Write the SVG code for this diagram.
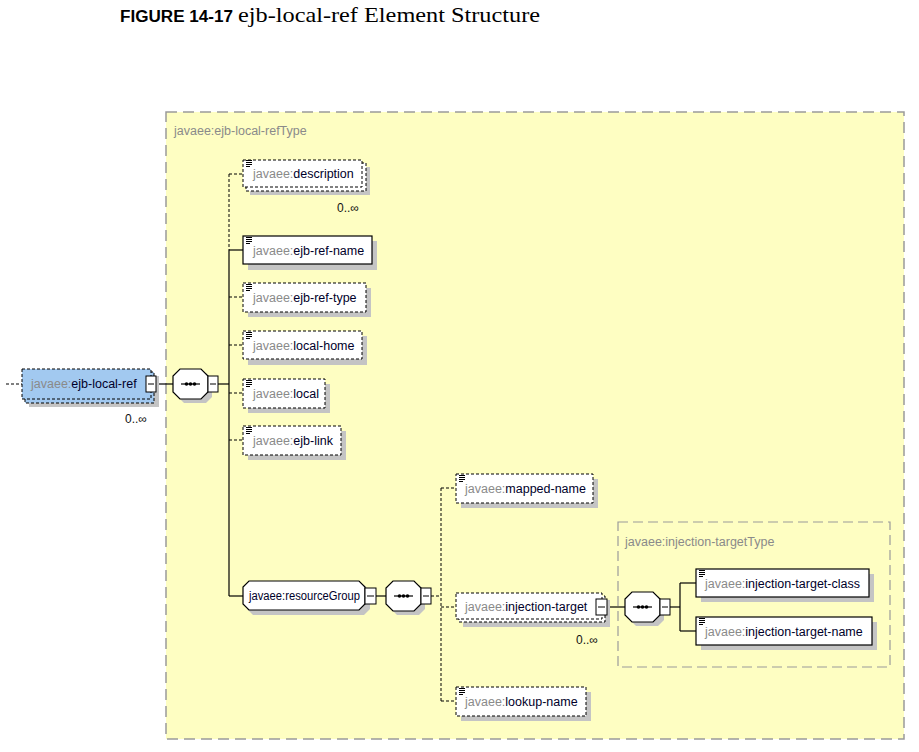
<svg xmlns="http://www.w3.org/2000/svg" width="919" height="752" viewBox="0 0 919 752">
<style>
.opt{fill:#fff;stroke:#000;stroke-width:1;stroke-dasharray:3 2}
.req{fill:#fff;stroke:#000;stroke-width:1.2}
.sh{fill:#c4c4c4}
.t{font-family:"Liberation Sans",Arial,sans-serif;font-size:12.5px;fill:#00002a}
.ns{fill:#8a8a8a}
.type{font-family:"Liberation Sans",Arial,sans-serif;font-size:12.5px;fill:#8a8a8a}
.occ{font-family:"Liberation Sans",Arial,sans-serif;font-size:12px;fill:#111}
.c{stroke:#000;stroke-width:1.2;fill:none}
.cd{stroke:#000;stroke-width:1;fill:none;stroke-dasharray:3 2}
.mb{fill:#fff;stroke:#000;stroke-width:1}
</style>
<defs>
<path id="ic" d="M0,0.5h6M0,2.5h6M0,4.5h6M0,6.5h4" stroke="#000" stroke-width="1" fill="none"/>
<g id="seq">
<polygon class="sh" points="11,4 33,4 39,10 39,28 33,34 11,34 5,28 5,10"/>
<polygon fill="#fff" stroke="#000" stroke-width="1.2" points="7,0 28,0 35,7 35,23 28,30 7,30 0,23 0,7"/>
<line x1="8" y1="15" x2="27" y2="15" stroke="#000" stroke-width="1.2"/>
<circle cx="13.5" cy="15" r="1.8"/><circle cx="17.5" cy="15" r="1.8"/><circle cx="21.5" cy="15" r="1.8"/>
<rect class="mb" x="35" y="7" width="10" height="16"/>
<line x1="37" y1="15" x2="43" y2="15" stroke="#000"/>
</g>
</defs>

<text x="120" y="22" font-family="'Liberation Sans',Arial,sans-serif" font-size="16" font-weight="bold" fill="#000" textLength="113" lengthAdjust="spacingAndGlyphs">FIGURE 14-17</text>
<text x="238" y="22" font-family="'Liberation Serif','Times New Roman',serif" font-size="22" fill="#000" textLength="302" lengthAdjust="spacingAndGlyphs">ejb-local-ref Element Structure</text>

<g id="outer-type">
<rect x="166" y="112" width="738" height="627" fill="#fefec2" stroke="#9a9a9a" stroke-width="1.5" stroke-dasharray="11 6"/>
<text class="type" x="174" y="135">javaee:ejb-local-refType</text>
</g>
<g id="inner-type">
<rect x="618" y="522" width="272" height="145" fill="none" stroke="#9a9a9a" stroke-width="1.2" stroke-dasharray="10 5"/>
<text class="type" x="625" y="546">javaee:injection-targetType</text>
</g>

<g id="connectors">
<line class="cd" x1="6" y1="384" x2="22" y2="384"/>
<line class="c" x1="156" y1="384" x2="173" y2="384"/>
<line class="c" x1="218" y1="384" x2="229" y2="384"/>
<line class="cd" x1="229" y1="174" x2="229" y2="250"/>
<line class="c" x1="229" y1="250" x2="229" y2="596"/>
<line class="cd" x1="229" y1="174" x2="243" y2="174"/>
<line class="c" x1="229" y1="250" x2="243" y2="250"/>
<line class="cd" x1="229" y1="297" x2="243" y2="297"/>
<line class="cd" x1="229" y1="345" x2="243" y2="345"/>
<line class="cd" x1="229" y1="393" x2="243" y2="393"/>
<line class="cd" x1="229" y1="440" x2="243" y2="440"/>
<line class="c" x1="229" y1="596" x2="243" y2="596"/>
<line class="c" x1="376" y1="596" x2="386" y2="596"/>
<line class="cd" x1="431" y1="596" x2="441" y2="596"/>
<line class="cd" x1="441" y1="488" x2="441" y2="701"/>
<line class="cd" x1="441" y1="488" x2="456" y2="488"/>
<line class="cd" x1="441" y1="607" x2="456" y2="607"/>
<line class="cd" x1="441" y1="701" x2="456" y2="701"/>
<line class="c" x1="607" y1="607" x2="625" y2="607"/>
<line class="c" x1="670" y1="607" x2="680" y2="607"/>
<line class="c" x1="680" y1="583" x2="680" y2="631"/>
<line class="c" x1="680" y1="583" x2="696" y2="583"/>
<line class="c" x1="680" y1="631" x2="696" y2="631"/>
</g>

<g id="ejb-local-ref">
<rect class="sh" x="29" y="376" width="130" height="31"/>
<rect x="25" y="372" width="129" height="31" fill="#a2c9f0" stroke="#000" stroke-dasharray="3 2"/>
<rect x="22" y="369" width="129" height="30" fill="#a2c9f0" stroke="#000" stroke-dasharray="3 2"/>
<text class="t" x="31" y="388"><tspan class="ns">javaee:</tspan>ejb-local-ref</text>
<rect class="mb" x="146" y="376" width="10" height="16"/>
<line x1="148" y1="384" x2="154" y2="384" stroke="#000"/>
<text class="occ" x="125" y="423">0..∞</text>
</g>

<g id="seq1"><use href="#seq" x="173" y="369"/></g>

<g id="description">
<rect class="sh" x="250" y="167" width="120" height="28"/>
<rect class="opt" x="246" y="163" width="120" height="28"/>
<rect class="opt" x="243" y="160" width="119" height="27"/>
<use href="#ic" x="246" y="160"/>
<text class="t" x="253" y="178"><tspan class="ns">javaee:</tspan>description</text>
<text class="occ" x="337" y="212">0..∞</text>
</g>

<g id="ejb-ref-name">
<rect class="sh" x="248" y="241" width="129" height="29"/>
<rect class="req" x="243" y="236" width="129" height="28"/>
<use href="#ic" x="246" y="237"/>
<text class="t" x="253" y="255"><tspan class="ns">javaee:</tspan>ejb-ref-name</text>
</g>

<g id="ejb-ref-type">
<rect class="sh" x="248" y="288" width="123" height="29"/>
<rect class="opt" x="243" y="283" width="123" height="29"/>
<use href="#ic" x="246" y="284"/>
<text class="t" x="253" y="302"><tspan class="ns">javaee:</tspan>ejb-ref-type</text>
</g>

<g id="local-home">
<rect class="sh" x="248" y="336" width="119" height="29"/>
<rect class="opt" x="243" y="331" width="119" height="28"/>
<use href="#ic" x="246" y="332"/>
<text class="t" x="253" y="350"><tspan class="ns">javaee:</tspan>local-home</text>
</g>

<g id="local">
<rect class="sh" x="248" y="384" width="82" height="29"/>
<rect class="opt" x="243" y="379" width="82" height="29"/>
<use href="#ic" x="246" y="380"/>
<text class="t" x="253" y="398"><tspan class="ns">javaee:</tspan>local</text>
</g>

<g id="ejb-link">
<rect class="sh" x="248" y="431" width="98" height="29"/>
<rect class="opt" x="243" y="426" width="98" height="29"/>
<use href="#ic" x="246" y="427"/>
<text class="t" x="253" y="445"><tspan class="ns">javaee:</tspan>ejb-link</text>
</g>

<g id="resourceGroup">
<polygon class="sh" points="253,585 364,585 370,591 370,609 364,615 253,615 247,609 247,591"/>
<polygon fill="#fff" stroke="#000" stroke-width="1.2" points="249,581 359,581 365,587 365,604 359,610 249,610 243,604 243,587"/>
<text class="t" x="249" y="600" textLength="111" lengthAdjust="spacingAndGlyphs">javaee:resourceGroup</text>
<rect class="mb" x="365" y="588" width="11" height="16"/>
<line x1="367" y1="596" x2="374" y2="596" stroke="#000"/>
</g>

<g id="seq2"><use href="#seq" x="386" y="581"/></g>

<g id="mapped-name">
<rect class="sh" x="461" y="479" width="137" height="29"/>
<rect class="opt" x="456" y="474" width="137" height="29"/>
<use href="#ic" x="459" y="475"/>
<text class="t" x="465" y="493"><tspan class="ns">javaee:</tspan>mapped-name</text>
</g>

<g id="injection-target">
<rect class="sh" x="463" y="600" width="147" height="27"/>
<rect class="opt" x="459" y="596" width="146" height="26"/>
<rect class="opt" x="456" y="593" width="146" height="26"/>
<text class="t" x="465" y="611"><tspan class="ns">javaee:</tspan>injection-target</text>
<rect class="mb" x="596" y="599" width="11" height="16"/>
<line x1="598" y1="607" x2="605" y2="607" stroke="#000"/>
<text class="occ" x="576" y="644">0..∞</text>
</g>

<g id="lookup-name">
<rect class="sh" x="461" y="692" width="130" height="29"/>
<rect class="opt" x="456" y="687" width="130" height="29"/>
<use href="#ic" x="459" y="688"/>
<text class="t" x="465" y="706"><tspan class="ns">javaee:</tspan>lookup-name</text>
</g>

<g id="seq3"><use href="#seq" x="625" y="592"/></g>

<g id="injection-target-class">
<rect class="sh" x="701" y="574" width="173" height="28"/>
<rect class="req" x="696" y="569" width="173" height="28"/>
<use href="#ic" x="699" y="570"/>
<text class="t" x="705" y="588"><tspan class="ns">javaee:</tspan>injection-target-class</text>
</g>

<g id="injection-target-name">
<rect class="sh" x="701" y="622" width="176" height="28"/>
<rect class="req" x="696" y="617" width="176" height="28"/>
<use href="#ic" x="699" y="618"/>
<text class="t" x="705" y="636"><tspan class="ns">javaee:</tspan>injection-target-name</text>
</g>
</svg>
